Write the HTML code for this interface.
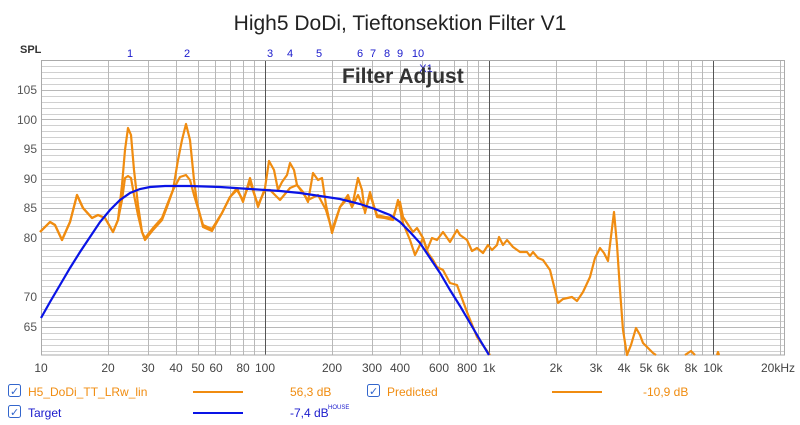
<!DOCTYPE html>
<html><head><meta charset="utf-8"><style>
body{margin:0;background:#fff;}
svg{display:block;font-family:"Liberation Sans","DejaVu Sans",sans-serif;}
</style></head><body>
<svg width="800" height="425" viewBox="0 0 800 425" xmlns="http://www.w3.org/2000/svg">
<rect width="800" height="425" fill="#fff"/>
<text x="400" y="30" text-anchor="middle" font-size="21" fill="#222">High5 DoDi, Tieftonsektion Filter V1</text>
<g id="grid" stroke="#d4d4d4" stroke-width="1">
</g>
<script>
</script>
<g stroke="#d0d0d0" stroke-width="1">
<!-- horizontal 1dB lines from 110 down to 61 -->
<path d="M41 60.5H785M41 66.5H785M41 72.5H785M41 78.5H785M41 84.5H785M41 96.5H785M41 102.5H785M41 108.5H785M41 114.5H785M41 125.5H785M41 131.5H785M41 137.5H785M41 143.5H785M41 155.5H785M41 161.5H785M41 167.5H785M41 173.5H785M41 185.5H785M41 191.5H785M41 197.5H785M41 203.5H785M41 214.5H785M41 220.5H785M41 226.5H785M41 232.5H785M41 244.5H785M41 250.5H785M41 256.5H785M41 262.5H785M41 268.5H785M41 274.5H785M41 280.5H785M41 286.5H785M41 292.5H785M41 303.5H785M41 309.5H785M41 315.5H785M41 321.5H785M41 333.5H785M41 339.5H785M41 345.5H785M41 351.5H785"/>
</g>
<g stroke="#b8b8b8" stroke-width="1">
<path d="M41 90.5H785M41 119.5H785M41 149.5H785M41 179.5H785M41 208.5H785M41 238.5H785M41 297.5H785M41 327.5H785"/>
<path d="M108.5 60V355M148.5 60V355M176.5 60V355M198.5 60V355M215.5 60V355M230.5 60V355M243.5 60V355M254.5 60V355M332.5 60V355M372.5 60V355M400.5 60V355M422.5 60V355M439.5 60V355M454.5 60V355M467.5 60V355M478.5 60V355M556.5 60V355M596.5 60V355M624.5 60V355M646.5 60V355M663.5 60V355M678.5 60V355M691.5 60V355M702.5 60V355M780.5 60V355"/>
</g>
<g stroke="#555" stroke-width="1">
<path d="M265.5 60V355M489.5 60V355M713.5 60V355"/>
</g>
<rect x="41.5" y="60.5" width="743" height="294.5" fill="none" stroke="#aaa"/>
<g font-size="12" fill="#555" text-anchor="end">
<text x="37" y="94">105</text><text x="37" y="124">100</text><text x="37" y="153">95</text><text x="37" y="183">90</text><text x="37" y="212">85</text><text x="37" y="242">80</text><text x="37" y="301">70</text><text x="37" y="331">65</text>
</g>
<text x="20" y="53" font-size="11" font-weight="bold" fill="#333">SPL</text>
<g font-size="12" fill="#444" text-anchor="middle">
<text x="41" y="372">10</text><text x="108" y="372">20</text><text x="148" y="372">30</text><text x="176" y="372">40</text><text x="198" y="372">50</text><text x="216" y="372">60</text><text x="243" y="372">80</text><text x="265" y="372">100</text><text x="332" y="372">200</text><text x="372" y="372">300</text><text x="400" y="372">400</text><text x="439" y="372">600</text><text x="467" y="372">800</text><text x="489" y="372">1k</text><text x="556" y="372">2k</text><text x="596" y="372">3k</text><text x="624" y="372">4k</text><text x="646" y="372">5k</text><text x="663" y="372">6k</text><text x="691" y="372">8k</text><text x="713" y="372">10k</text><text x="778" y="372">20kHz</text>
</g>
<g font-size="11" fill="#1a1acc" text-anchor="middle">
<text x="130" y="57">1</text><text x="187" y="57">2</text><text x="270" y="57">3</text><text x="290" y="57">4</text><text x="319" y="57">5</text><text x="360" y="57">6</text><text x="373" y="57">7</text><text x="387" y="57">8</text><text x="400" y="57">9</text><text x="418" y="57">10</text><text x="426" y="72">X1</text>
</g>
<text x="342" y="83" font-size="21" font-weight="bold" fill="#333">Filter Adjust</text>
<g fill="none" stroke="#f08c10" stroke-width="2.2" stroke-linejoin="round">
<polyline points="40,232 50,222 55,225 62,240 70,222 77,195 83,208 92,218 98,215 105,218 113,232 118,220 122,185 125,150 128,128 131,135 134,170 138,205 142,232 145,240 153,230 162,220 167,207 173,190 178,160 182,140 186,124 190,140 194,180 197,203 203,227 212,231 222,213 230,197 237,188 243,202 250,178 258,207 265,188 269,161 274,170 278,190 282,182 287,175 290,163 294,170 297,185 303,192 308,202 313,173 318,180 322,178 326,205 332,233 340,207 348,195 352,207 358,178 362,190 365,213 370,192 377,217 385,218 393,220 398,200 403,223 410,240 415,255 419,247 423,238 428,253 433,260 437,267 443,270 450,283 457,285 467,312 477,337 490,355"/>
<polyline points="40,232 50,222 55,225 62,240 70,222 77,195 83,208 92,218 98,215 105,218 113,232 118,220 122,200 125,178 128,176 131,178 134,195 138,215 142,232 145,238 153,228 162,218 167,205 173,190 180,177 186,175 190,180 194,195 197,205 203,225 212,229 222,213 230,197 237,190 243,200 250,182 258,205 265,190 270,190 280,200 290,188 297,185 308,200 318,195 326,210 332,230 340,207 348,198 352,207 358,195 365,211 370,195 377,215 385,217 393,218 398,202 400,202 403,217 413,232 417,228 423,238 427,250 432,238 437,240 443,232 450,242 457,230 460,235 467,240 472,251 477,248 483,253 488,245 492,250 497,245 499,237 503,245 507,240 513,247 520,252 527,252 530,256 533,252 538,258 543,260 550,270 555,290 558,303 563,299 572,297 577,301 583,292 590,277 595,258 600,248 604,253 608,261 614,212 617,245 620,290 623,330 627,355 631,345 636,328 640,335 643,343 648,348 653,353 656,355"/>
<polyline points="685,355 691,351 695,355"/>
<polyline points="717,355 718,352 719,355"/>
</g>
<polyline fill="none" stroke="#0a14e6" stroke-width="2.2" points="41,318 50,302 60,285 70,268 80,252 90,237 100,222 110,210 120,200 130,193 140,189 150,187 165,186 190,186 220,187 250,189 280,191 300,193 320,196 340,199 360,204 375,209 390,215 400,222 410,232 420,243 430,258 440,273 450,290 460,306 470,323 480,340 489,355"/>
<g font-size="12">
<rect x="8.5" y="384.5" width="12" height="12" rx="2" fill="#fff" stroke="#3366cc"/><text x="10" y="395" font-size="11" fill="#3366cc">✓</text>
<text x="28" y="396" fill="#f08c10">H5_DoDi_TT_LRw_lin</text>
<line x1="193" y1="392" x2="243" y2="392" stroke="#f08c10" stroke-width="2"/>
<text x="290" y="396" fill="#f08c10">56,3 dB</text>
<rect x="367.5" y="384.5" width="12" height="12" rx="2" fill="#fff" stroke="#3366cc"/><text x="369" y="395" font-size="11" fill="#3366cc">✓</text>
<text x="387" y="396" fill="#f08c10">Predicted</text>
<line x1="552" y1="392" x2="602" y2="392" stroke="#f08c10" stroke-width="2"/>
<text x="643" y="396" fill="#f08c10">-10,9 dB</text>
<rect x="8.5" y="405.5" width="12" height="12" rx="2" fill="#fff" stroke="#3366cc"/><text x="10" y="416" font-size="11" fill="#3366cc">✓</text>
<text x="28" y="417" fill="#1a1acc">Target</text>
<line x1="193" y1="413" x2="243" y2="413" stroke="#0a14e6" stroke-width="2"/>
<text x="290" y="417" fill="#1a1acc">-7,4 dB</text><text x="328" y="409" font-size="6" fill="#1a1acc">HOUSE</text>
</g>
</svg>
</body></html>
